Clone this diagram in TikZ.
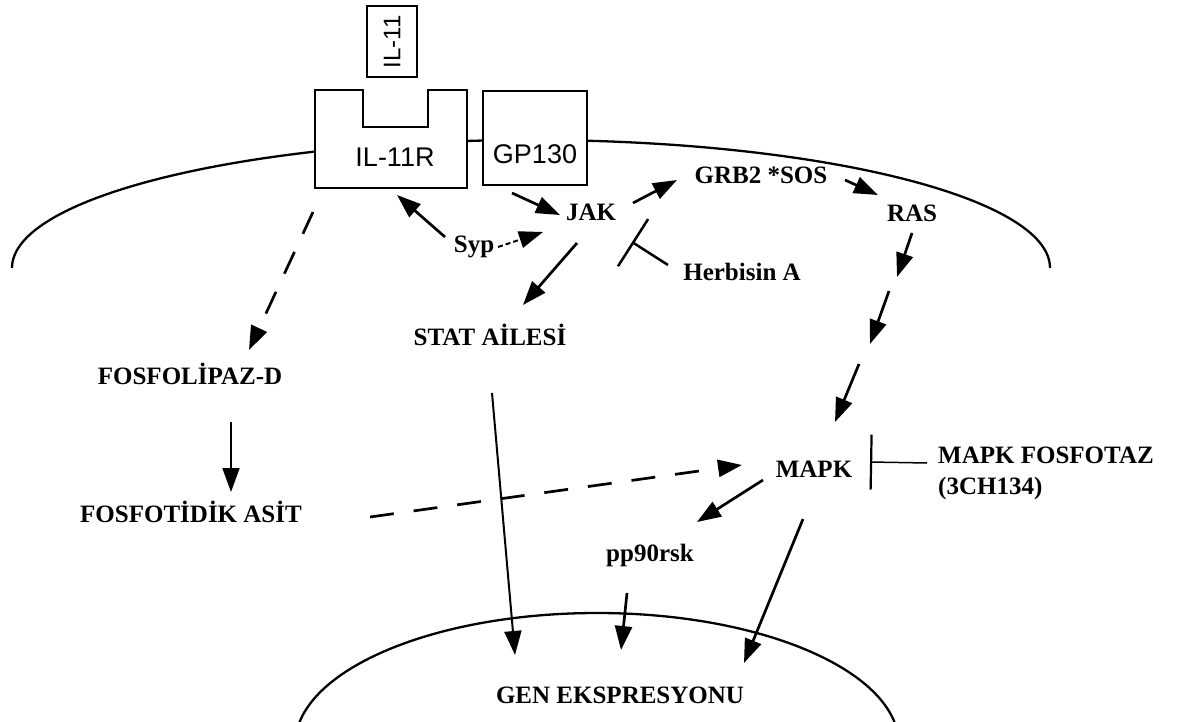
\documentclass[tikz,border=0pt]{standalone}
\usepackage{fontspec}
\setmainfont{Liberation Serif}
\newfontfamily\sansf{Liberation Sans}
\usetikzlibrary{arrows.meta,calc}
\tikzset{
 lbl/.style={font=\fontsize{25}{31}\selectfont\bfseries, inner sep=0pt},
 sl/.style={font=\sansf\fontsize{27}{30}\selectfont, inner sep=0pt},
 arr/.style={line width=2.7pt, -{Triangle[length=24pt,width=17pt]}},
 darr/.style={arr, dash pattern=on 24pt off 20pt},
 sdarr/.style={arr, line width=2pt, dash pattern=on 5pt off 3pt},
 inh/.style={line width=2.5pt, -{Bar[width=56pt]}},
 inhthin/.style={line width=1.5pt, -{Bar[width=55pt,line width=2.2pt]}},
 mem/.style={line width=2.3pt},
 box/.style={draw, line width=2pt, fill=white},
}
\begin{document}
\begin{tikzpicture}[x=1pt,y=1pt]
\useasboundingbox (0,0) rectangle (1177,-722);
\fill[white] (0,0) rectangle (1177,-722);
% cell membrane
\draw[mem] (12,-268) arc[start angle=180,end angle=0,x radius=519pt,y radius=128pt];
% nucleus
\begin{scope}
\clip (0,0) rectangle (1177,-722);
\draw[mem] (597,-745) ellipse[x radius=302pt,y radius=132pt];
\end{scope}
% receptors
\draw[box] (315,-90) -- (363,-90) -- (363,-127) -- (428,-127) -- (428,-90) -- (467,-90) -- (467,-188) -- (315,-188) -- cycle;
\node[minimum width=152pt, minimum height=98pt, inner sep=0pt] (il11r) at (391,-139) {};
\node[sl] (il11rl) at (395,-157) {IL-11R};
\node[box, minimum width=104pt, minimum height=94pt, inner sep=0pt] (gp130) at (535,-138) {};
\node[sl] (gp130l) at (535,-154) {GP130};
\node[box, rotate=90, minimum width=71pt, minimum height=50pt, inner sep=0pt, font=\sansf\fontsize{24}{28}\selectfont] (il11) at (392,-42) {IL-11};
% labels
\node[lbl] (syp) at (474,-247) {Syp};
\node[lbl] (jak) at (591,-212) {JAK};
\node[lbl] (stat) at (490,-335) {STAT AİLESİ};
\node[lbl] (grb) at (761,-175) {GRB2 *SOS};
\node[lbl] (ras) at (912,-213) {RAS};
\node[lbl] (herb) at (742,-272) {Herbisin A};
\node[lbl] (fld) at (190,-374) {FOSFOLİPAZ-D};
\node[lbl] (fa) at (191,-512) {FOSFOTİDİK ASİT};
\node[lbl] (mapk) at (814,-469) {MAPK};
\node[lbl, anchor=west, align=left] (mfz) at (938,-473) {MAPK FOSFOTAZ\\(3CH134)};
\node[lbl] (pp90) at (650,-555) {pp90rsk};
\node[lbl] (gen) at (620,-695) {GEN EKSPRESYONU};
% connectors
\draw[arr] ([shift={(-23,-55)}]gp130.center) -- ([shift={(-31,-3)}]jak.center);
\draw[arr] ([shift={(-29,10)}]syp.center) -- ([shift={(6,-56)}]il11r.center);
\draw[sdarr] ([shift={(24,0)}]syp.center) -- ([shift={(-48,-20)}]jak.center);
\draw[arr] ([shift={(-14,-31)}]jak.center) -- ([shift={(33,30)}]stat.center);
\draw[arr] ([shift={(42,9)}]jak.center) -- ([shift={(-84,-5)}]grb.center);
\coordinate (hb) at (632,-242);
\draw[inh] ([shift={(-74,7)}]herb.center) -- (hb);
\draw[arr] ([shift={(84,-5)}]grb.center) -- ([shift={(-34,18)}]ras.center);
\coordinate (r1) at (897,-277);
\coordinate (r2) at (889,-291);
\coordinate (r3) at (870,-344);
\coordinate (r4) at (859,-364);
\draw[arr] ([shift={(0,-20)}]ras.center) -- (r1);
\draw[arr] (r2) -- (r3);
\draw[arr] (r4) -- ([shift={(21,47)}]mapk.center);
\draw[darr] ([shift={(-78,-73)}]il11r.center) -- ([shift={(59,24)}]fld.center);
\draw[arr, line width=2pt] ([shift={(41,-48)}]fld.center) -- ([shift={(40,20)}]fa.center);
\draw[darr] ([shift={(179,-5)}]fa.center) -- ([shift={(-72,4)}]mapk.center);
\draw[inhthin] ([shift={(-11,10)}]mfz.west) -- ([shift={(56,7)}]mapk.center);
\draw[arr] ([shift={(-51,-11)}]mapk.center) -- ([shift={(47,33)}]pp90.center);
\draw[arr] ([shift={(-11,-50)}]mapk.center) -- ([shift={(124,32)}]gen.center);
\draw[arr] ([shift={(-23,-38)}]pp90.center) -- ([shift={(1,45)}]gen.center);
\draw[arr, line width=2pt] ([shift={(2,-58)}]stat.center) -- ([shift={(-105,40)}]gen.center);
\end{tikzpicture}
\end{document}
